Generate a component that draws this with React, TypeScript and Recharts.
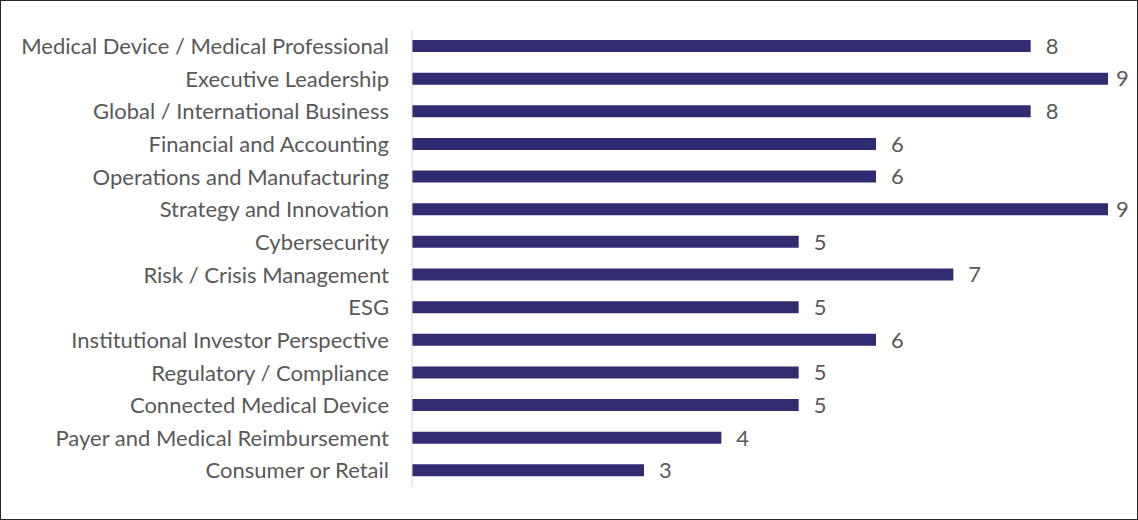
import { Bar, BarChart, LabelList, XAxis, YAxis } from 'recharts';

const categories = [
  'Medical Device / Medical Professional',
  'Executive Leadership',
  'Global / International Business',
  'Financial and Accounting',
  'Operations and Manufacturing',
  'Strategy and Innovation',
  'Cybersecurity',
  'Risk / Crisis Management',
  'ESG',
  'Institutional Investor Perspective',
  'Regulatory / Compliance',
  'Connected Medical Device',
  'Payer and Medical Reimbursement',
  'Consumer or Retail',
];

const counts = [8, 9, 8, 6, 6, 9, 5, 7, 5, 6, 5, 5, 4, 3];

const data = categories.map((name, i) => ({ name, value: counts[i] }));

const FONT = "Lato, 'Open Sans', sans-serif";
const GRAY = '#595959';

// Excel pulls the label in when it would run past the chart edge
const ValueLabel = (props: any) => {
  const { x, y, width, height, value } = props;
  const lx = Math.min(x + width + 15, 1115);
  return (
    <text
      x={lx}
      y={y + height / 2}
      dy="0.355em"
      fill={GRAY}
      fontSize={22}
      fontFamily={FONT}
      textAnchor="start"
    >
      {value}
    </text>
  );
};

export default function App() {
  return (
    <div
      style={{
        position: 'absolute',
        left: 0,
        top: 0,
        width: 1138,
        height: 520,
        boxSizing: 'border-box',
        border: '1px solid #262626',
        background: '#fff',
      }}
    >
      <BarChart
        layout="vertical"
        width={1136}
        height={518}
        data={data}
        margin={{ top: 29, right: 29, bottom: 32, left: 0 }}
        barCategoryGap={0}
      >
        <XAxis type="number" domain={[0, 9]} hide />
        <YAxis
          type="category"
          dataKey="name"
          width={411}
          tickLine={false}
          tickSize={0}
          tickMargin={23}
          axisLine={{ stroke: '#d9d9d9', strokeWidth: 1 }}
          tick={{ fill: GRAY, fontSize: 22, fontFamily: FONT }}
          interval={0}
        />
        <Bar dataKey="value" fill="#312C72" barSize={12} isAnimationActive={false}>
          <LabelList dataKey="value" content={ValueLabel} />
        </Bar>
      </BarChart>
    </div>
  );
}
